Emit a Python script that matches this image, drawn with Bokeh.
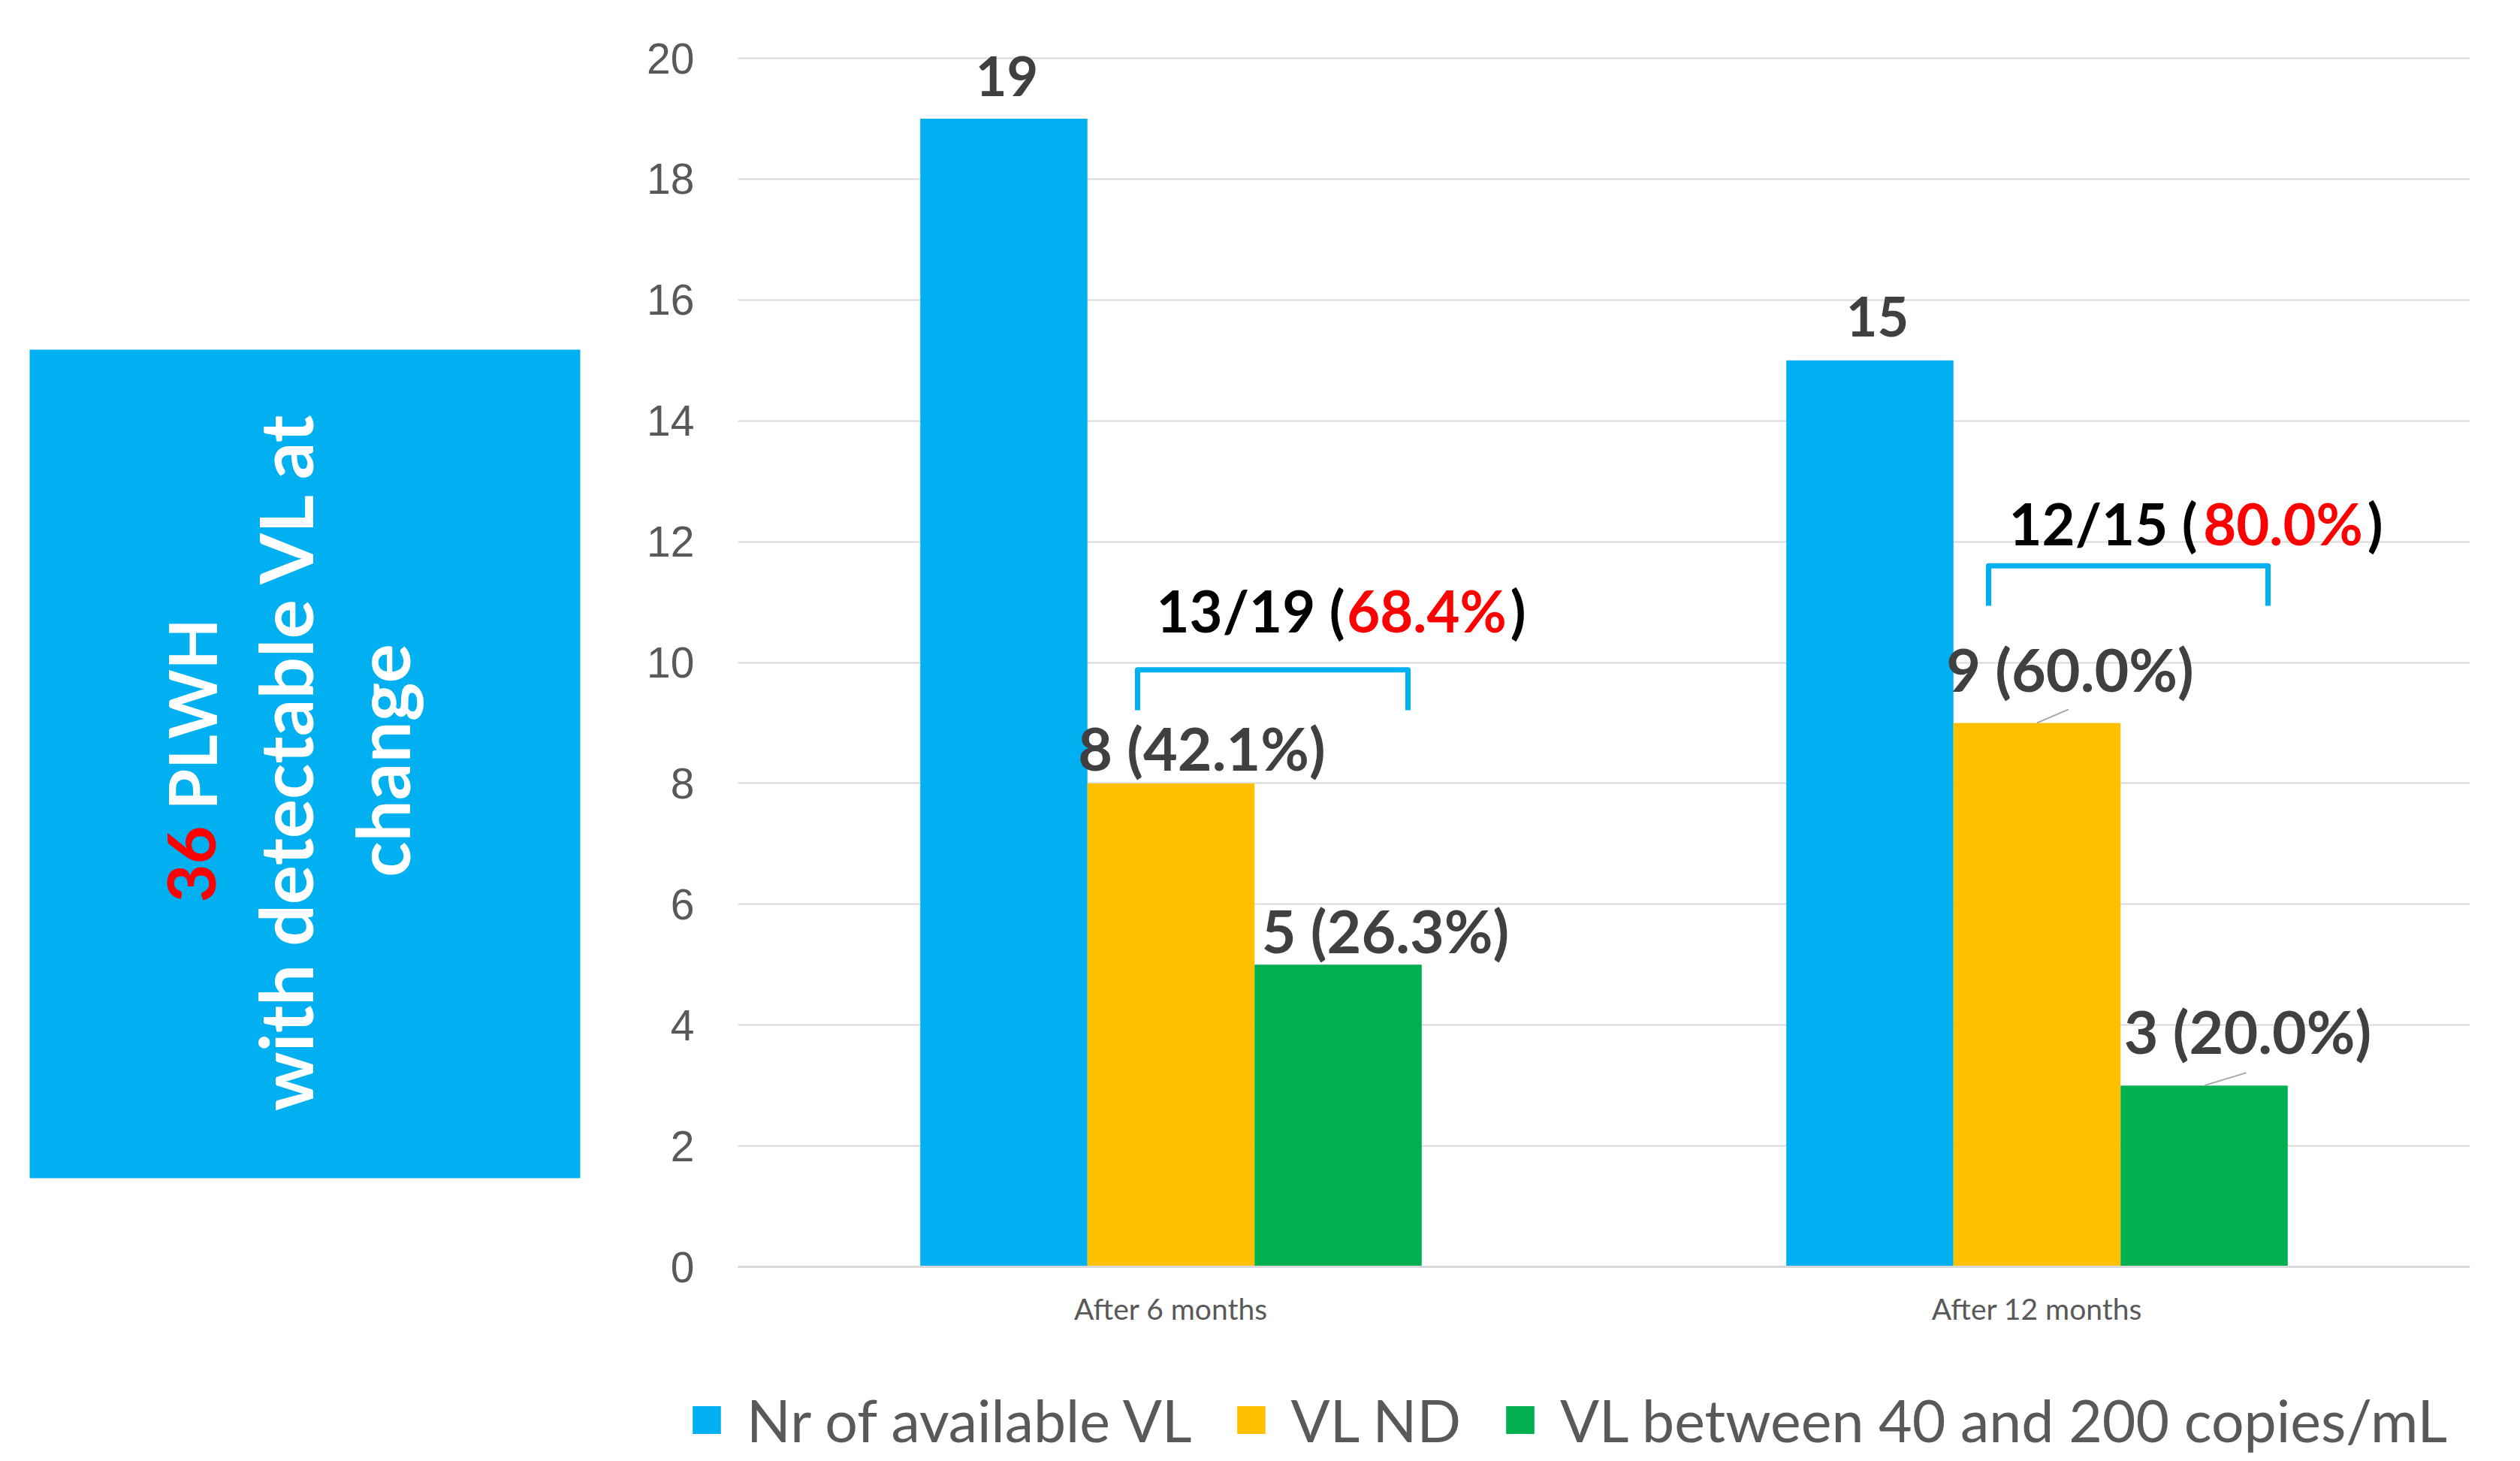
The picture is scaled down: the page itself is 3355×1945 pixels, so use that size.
import math
from bokeh.plotting import figure
from bokeh.models import (ColumnDataSource, Range1d, Legend, LegendItem, FixedTicker)
from bokeh.transform import dodge
from bokeh.layouts import row
from bokeh.core.properties import value
from bokeh.embed import file_html
from bokeh.resources import INLINE

# ---------------- data ----------------
categories = ["After 6 months", "After 12 months"]
nr_available = [19, 15]
vl_nd = [8, 9]
vl_40_200 = [5, 3]
series_names = ["Nr of available VL", "VL ND", "VL between 40 and 200 copies/mL"]
y_ticks = [0, 2, 4, 6, 8, 10, 12, 14, 16, 18, 20]
plwh_total = 36
box_line1_rest = "PLWH"
box_line2 = "with detectable VL at"
box_line3 = "change"

# ---------------- style / layout ----------------
BLUE, YELLOW, GREEN = "#00B0F0", "#FFC000", "#00B050"
LABEL_COLOR = "#404040"
AXIS_TEXT = "#595959"
GRID = "#D9D9D9"
FONT = "Lato"

W, H = 3355, 1945
LEFT_W = 800
CHART_L, CHART_R, Y20_PX, Y0_PX = 982, 3288, 77, 1686
FRAME_T = 30
CAT_PX = (CHART_R - CHART_L) / 2
Y_PX = (Y0_PX - Y20_PX) / (y_ticks[-1] - y_ticks[0])
BW = 0.193

BLUE_FS = 72
LABEL_FS = 79
ANN_FS = 76
BOX_FS = 98
BOX1_FS = 88
LEGEND_FS = 77
SHIFT = 0.3  # em correction for the alphabetic baseline

n_cat = len(categories)
cat_x = [i + 0.5 for i in range(n_cat)]


def cx(i, off_px=0.0, series_off=0.0):
    return cat_x[i] + series_off + off_px / CAT_PX


x_lo = -(CHART_L - LEFT_W) / CAT_PX
y_lo = y_ticks[0] - (H - Y0_PX) / Y_PX
y_hi = y_ticks[-1] + (Y20_PX - FRAME_T) / Y_PX

# ---------------- main chart ----------------
p = figure(width=W - LEFT_W, height=H, x_range=Range1d(x_lo, n_cat),
           y_range=Range1d(y_lo, y_hi),
           min_border_left=0, min_border_right=W - CHART_R,
           min_border_top=FRAME_T, min_border_bottom=0,
           toolbar_location=None, output_backend="svg")
p.outline_line_color = None
p.background_fill_color = "white"
p.border_fill_color = "white"

src = ColumnDataSource(dict(x=cat_x, cat=categories, nr=nr_available, nd=vl_nd, low=vl_40_200))

r1 = p.vbar(x=dodge("x", -BW), top="nr", width=BW, source=src,
            fill_color=BLUE, line_color=None)
r2 = p.vbar(x=dodge("x", 0), top="nd", width=BW, source=src,
            fill_color=YELLOW, line_color=None)
r3 = p.vbar(x=dodge("x", BW), top="low", width=BW, source=src,
            fill_color=GREEN, line_color=None)

# axes
p.yaxis.ticker = FixedTicker(ticks=y_ticks)
p.yaxis.fixed_location = 0
p.yaxis.axis_line_color = None
p.yaxis.major_tick_line_color = None
p.yaxis.minor_tick_line_color = None
p.yaxis.major_tick_out = 0
p.yaxis.major_tick_in = 0
p.yaxis.major_label_standoff = 58
p.yaxis.major_label_text_font = "Liberation Sans"
p.yaxis.major_label_text_font_size = "57px"
p.yaxis.major_label_text_color = AXIS_TEXT

p.xaxis.ticker = FixedTicker(ticks=cat_x)
p.xaxis.major_label_overrides = {x: c for x, c in zip(cat_x, categories)}
p.xaxis.fixed_location = 0
p.xaxis.bounds = (0, n_cat)
p.xaxis.axis_line_color = GRID
p.xaxis.axis_line_width = 3
p.xaxis.major_tick_line_color = None
p.xaxis.minor_tick_line_color = None
p.xaxis.major_tick_out = 0
p.xaxis.major_tick_in = 0
p.xaxis.major_label_standoff = 32
p.xaxis.major_label_text_font = FONT
p.xaxis.major_label_text_font_size = "39px"
p.xaxis.major_label_text_color = AXIS_TEXT

p.xgrid.visible = False
p.ygrid.ticker = FixedTicker(ticks=y_ticks)
p.ygrid.grid_line_color = GRID
p.ygrid.grid_line_width = 2
try:
    p.ygrid.cross_bounds = (0, n_cat)
except Exception:
    p.ygrid.visible = False
    p.segment(x0=0, x1=n_cat, y0=y_ticks, y1=y_ticks, line_color=GRID, line_width=2,
              level="underlay")

# value labels
tot = nr_available
lab_blue = ColumnDataSource(dict(x=cat_x, y=nr_available,
                                 text=[str(v) for v in nr_available],
                                 dx=[4, 10], dy=[-35 - SHIFT * BLUE_FS, -37 - SHIFT * BLUE_FS]))
lab_yel = ColumnDataSource(dict(x=cat_x, y=vl_nd,
                                text=[f"{v} ({v / n * 100:.1f}%)" for v, n in zip(vl_nd, tot)],
                                dx=[41, 44], dy=[-24 - SHIFT * LABEL_FS, -48 - SHIFT * LABEL_FS]))
lab_grn = ColumnDataSource(dict(x=cat_x, y=vl_40_200,
                                text=[f"{v} ({v / n * 100:.1f}%)" for v, n in zip(vl_40_200, tot)],
                                dx=[63, 58], dy=[-22 - SHIFT * LABEL_FS, -49 - SHIFT * LABEL_FS]))
for s, off, fs in ((lab_blue, -BW, BLUE_FS), (lab_yel, 0, LABEL_FS), (lab_grn, BW, LABEL_FS)):
    p.text(x=dodge("x", off), y="y", text="text", x_offset="dx",
           y_offset="dy", source=s, text_align="center", text_baseline="alphabetic",
           text_font=value(FONT), text_font_style="bold", text_font_size=f"{fs}px",
           text_color=LABEL_COLOR)

# leader lines (12-month group)
lead = ColumnDataSource(dict(
    x0=[cx(1, 0, 0), cx(1, 0, BW)],
    y0=[vl_nd[1], vl_40_200[1]],
    x1=[cx(1, 42, 0), cx(1, 56, BW)],
    y1=[vl_nd[1] + 18 / Y_PX, vl_40_200[1] + 17 / Y_PX]))
p.segment(x0="x0", y0="y0", x1="x1", y1="y1", source=lead, line_color="#A6A6A6",
          line_width=2)

# brackets
br_left = [-44.5, -64.5]
br_right = [315.5, 307.5]
br_top = [9.88, 11.60]
br_bot = [9.21, 10.94]
xs, ys = [], []
for i in range(n_cat):
    xs.append([cx(i, br_left[i]), cx(i, br_left[i]), cx(i, br_right[i]), cx(i, br_right[i])])
    ys.append([br_bot[i], br_top[i], br_top[i], br_bot[i]])
p.multi_line(xs=xs, ys=ys, line_color=BLUE, line_width=7, line_join="round",
             line_cap="butt")

# suppressed annotations "13/19 (68.4%)"
supp = [a + b for a, b in zip(vl_nd, vl_40_200)]
ann_y = [10.58, 11.92]
ann_dy = [-SHIFT * ANN_FS, -8 - SHIFT * ANN_FS]
ann_black_dx = [-19.5, -37.5]
ann_red_dx = [340.5, 327.5]
ann_close_dx = [472.5, 460.5]
ann_black = ColumnDataSource(dict(x=cat_x, y=ann_y, dx=ann_black_dx, dy=ann_dy,
                                  text=[f"{s}/{n} (" for s, n in zip(supp, tot)]))
ann_red = ColumnDataSource(dict(x=cat_x, y=ann_y, dx=ann_red_dx, dy=ann_dy,
                                text=[f"{s / n * 100:.1f}%" for s, n in zip(supp, tot)]))
ann_close = ColumnDataSource(dict(x=cat_x, y=ann_y, dx=ann_close_dx, dy=ann_dy,
                                  text=[")" for _ in categories]))
for s, al, col in ((ann_black, "left", "#000000"), (ann_red, "center", "#FF0000"),
                   (ann_close, "right", "#000000")):
    p.text(x="x", y="y", text="text", x_offset="dx", y_offset="dy", source=s,
           text_align=al, text_baseline="alphabetic", text_font=value(FONT),
           text_font_style="bold", text_font_size=f"{ANN_FS}px", text_color=col)

# legend
legend = Legend(items=[LegendItem(label=series_names[0], renderers=[r1]),
                       LegendItem(label=series_names[1], renderers=[r2]),
                       LegendItem(label=series_names[2], renderers=[r3])],
                orientation="horizontal", location=(117, 9), padding=0, margin=0,
                spacing=55, label_standoff=30, glyph_width=47, glyph_height=46,
                label_height=89,
                border_line_color=None, background_fill_alpha=0,
                label_text_font=FONT, label_text_font_size=f"{LEGEND_FS}px",
                label_text_color=AXIS_TEXT)
p.add_layout(legend, "center")

# ---------------- left box ----------------
q = figure(width=LEFT_W, height=H, x_range=Range1d(0, LEFT_W),
           y_range=Range1d(0, H - FRAME_T),
           min_border_left=0, min_border_right=0, min_border_top=FRAME_T,
           min_border_bottom=0, x_axis_type=None, y_axis_type=None,
           toolbar_location=None, output_backend="svg")
q.xgrid.grid_line_color = None
q.ygrid.grid_line_color = None
q.outline_line_color = None
q.background_fill_color = "white"
q.border_fill_color = "white"
q.quad(left=39, right=772, top=H - 465, bottom=H - 1568, fill_color=BLUE, line_color=None)
ang = math.pi / 2
q.text(x=[281 - SHIFT * BOX1_FS], y=[H - 1201], text=[str(plwh_total)], angle=ang,
       text_align="left", text_baseline="alphabetic", text_font=value(FONT),
       text_font_style="bold", text_font_size=f"{BOX1_FS}px", text_color="#FF0000")
q.text(x=[281 - SHIFT * BOX1_FS], y=[H - 823], text=[box_line1_rest], angle=ang,
       text_align="right", text_baseline="alphabetic", text_font=value(FONT),
       text_font_style="bold", text_font_size=f"{BOX1_FS}px", text_color="white")
q.text(x=[408 - SHIFT * BOX_FS, 537 - SHIFT * BOX_FS], y=[H - 1012, H - 1012],
       text=[box_line2, box_line3], angle=ang, text_align="center",
       text_baseline="alphabetic", text_font=value(FONT), text_font_style="bold",
       text_font_size=f"{BOX_FS}px", text_color="white")

layout = row(q, p)
open("out.html", "w").write(file_html(layout, INLINE))
